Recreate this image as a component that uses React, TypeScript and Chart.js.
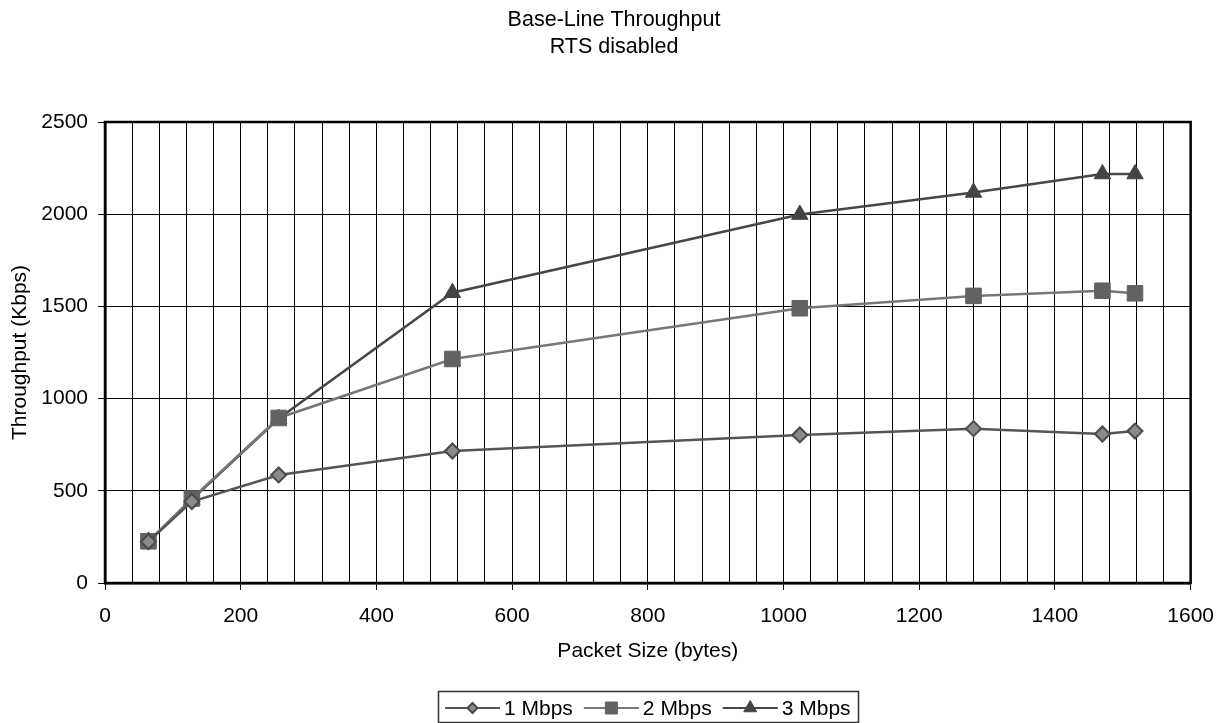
import React, { useEffect, useRef } from "react";
import { Chart, registerables } from "chart.js";

Chart.register(...registerables);

const packetSizes = [64, 128, 256, 512, 1024, 1280, 1470, 1518];
const mbps1 = [224, 442, 586, 716, 803, 837, 808, 824];
const mbps2 = [226, 458, 895, 1215, 1490, 1557, 1585, 1571];
const mbps3 = [226, 452, 892, 1574, 1998, 2118, 2218, 2218];
const seriesNames = ["1 Mbps", "2 Mbps", "3 Mbps"];
const titleLines = ["Base-Line Throughput", "RTS disabled"];
const xTitle = "Packet Size (bytes)";
const yTitle = "Throughput (Kbps)";

const FONT = "'Liberation Sans', Arial, sans-serif";

const styles = [
  { line: "#555555", fill: "#8a8a8a", border: "#4a4a4a", point: "rectRot", radius: 7.5, bw: 2, lr: 5 },
  { line: "#777777", fill: "#626262", border: "#626262", point: "rect", radius: 11, bw: 1, lr: 6 },
  { line: "#474747", fill: "#444444", border: "#444444", point: "triangle", radius: 9.5, bw: 1, lr: 7.5 },
];

function drawMarker(ctx: CanvasRenderingContext2D, kind: string, x: number, y: number, r: number, fill: string, border: string, bw: number) {
  ctx.save();
  ctx.fillStyle = fill;
  ctx.strokeStyle = border;
  ctx.lineWidth = bw;
  ctx.beginPath();
  if (kind === "rectRot") {
    ctx.moveTo(x, y - r);
    ctx.lineTo(x + r, y);
    ctx.lineTo(x, y + r);
    ctx.lineTo(x - r, y);
    ctx.closePath();
  } else if (kind === "rect") {
    ctx.rect(x - r, y - r, 2 * r, 2 * r);
  } else {
    ctx.moveTo(x, y - r);
    ctx.lineTo(x + r * 0.866, y + r * 0.5);
    ctx.lineTo(x - r * 0.866, y + r * 0.5);
    ctx.closePath();
  }
  ctx.fill();
  ctx.stroke();
  ctx.restore();
}

const framePlugin = {
  id: "frameLegend",
  afterDraw(chart: any) {
    const { ctx, chartArea, width } = chart;
    const { left, right, top, bottom } = chartArea;
    ctx.save();
    ctx.font = `21.5px ${FONT}`;
    ctx.fillStyle = "#000";
    ctx.textAlign = "center";
    ctx.textBaseline = "middle";
    ctx.fillText(titleLines[0], width / 2, 20);
    ctx.fillText(titleLines[1], width / 2, 46.7);
    ctx.strokeStyle = "#000";
    ctx.lineWidth = 2.5;
    ctx.strokeRect(left, top, right - left, bottom - top);
    ctx.font = `21px ${FONT}`;
    const lineLen = 55;
    const gap = 4;
    const itemGap = 11;
    const pad = 7;
    const widths = seriesNames.map((n) => ctx.measureText(n).width);
    const total = widths.reduce((a, w) => a + lineLen + gap + w, 0) + itemGap * (seriesNames.length - 1) + 2 * pad;
    const cx = (left + right) / 2;
    const bx = Math.round(cx - total / 2);
    const by = 691;
    const bh = 31;
    ctx.lineWidth = 1.5;
    ctx.strokeStyle = "#333";
    ctx.strokeRect(bx + 0.5, by + 0.5, Math.round(total), bh);
    let x = bx + pad;
    const cy = 708;
    seriesNames.forEach((n, i) => {
      const s = styles[i];
      ctx.strokeStyle = s.line;
      ctx.lineWidth = 2;
      ctx.beginPath();
      ctx.moveTo(x, cy);
      ctx.lineTo(x + lineLen, cy);
      ctx.stroke();
      drawMarker(ctx, s.point, x + lineLen / 2, cy, s.lr, s.fill, s.border, s.bw);
      ctx.fillStyle = "#000";
      ctx.textBaseline = "middle";
      ctx.textAlign = "left";
      ctx.fillText(n, x + lineLen + gap, cy + 1);
      x += lineLen + gap + widths[i] + itemGap;
    });
    ctx.restore();
  },
};

export default function App() {
  const ref = useRef<HTMLCanvasElement>(null);
  useEffect(() => {
    const datasets = [mbps1, mbps2, mbps3].map((vals, i) => ({
      label: seriesNames[i],
      data: packetSizes.map((x, j) => ({ x, y: vals[j] })),
      borderColor: styles[i].line,
      borderWidth: 2.5,
      backgroundColor: styles[i].fill,
      pointBackgroundColor: styles[i].fill,
      pointBorderColor: styles[i].border,
      pointBorderWidth: styles[i].bw,
      pointStyle: styles[i].point,
      pointRadius: styles[i].radius,
      tension: 0,
    }));
    const chart = new Chart(ref.current!, {
      type: "line",
      data: { datasets },
      plugins: [framePlugin],
      options: {
        animation: false,
        responsive: false,
        layout: { padding: { left: 0, right: 35, top: 122, bottom: 32 } },
        plugins: {
          legend: { display: false },
          tooltip: { enabled: false },
          title: { display: false },
        },
        scales: {
          x: {
            type: "linear",
            min: 0,
            max: 1600,
            afterFit: (s: any) => { s.height = 108; },
            ticks: {
              stepSize: 40,
              autoSkip: false,
              maxRotation: 0,
              color: "#000",
              font: { family: FONT, size: 21 },
              padding: 14,
              callback: (v: any) => (Number(v) % 200 === 0 ? String(v) : ""),
            },
            grid: {
              color: "#000",
              lineWidth: 1,
              tickLength: 7,
              tickColor: (c: any) => (c.tick && c.tick.value % 200 === 0 ? "#000" : "rgba(0,0,0,0)"),
            },
            border: { color: "#000", width: 2.5 },
            title: {
              display: true,
              text: xTitle,
              color: "#000",
              font: { family: FONT, size: 21 },
              padding: { top: 0, bottom: 27.4 },
            },
          },
          y: {
            type: "linear",
            min: 0,
            max: 2500,
            afterFit: (s: any) => { s.width = 105; },
            ticks: {
              stepSize: 500,
              color: "#000",
              font: { family: FONT, size: 21 },
              padding: 10,
              callback: (v: any) => String(v),
            },
            grid: { color: "#000", lineWidth: 1, tickLength: 7, tickColor: "#000" },
            border: { color: "#000", width: 2.5 },
            title: {
              display: true,
              text: yTitle,
              color: "#000",
              font: { family: FONT, size: 21 },
              padding: { top: 7.4, bottom: 0 },
            },
          },
        },
      } as any,
    });
    return () => chart.destroy();
  }, []);
  return (
    <div style={{ position: "absolute", left: 0, top: 0, width: 1228, height: 723, background: "#fff" }}>
      <canvas ref={ref} width={1228} height={723} style={{ width: 1228, height: 723, display: "block" }} />
    </div>
  );
}
